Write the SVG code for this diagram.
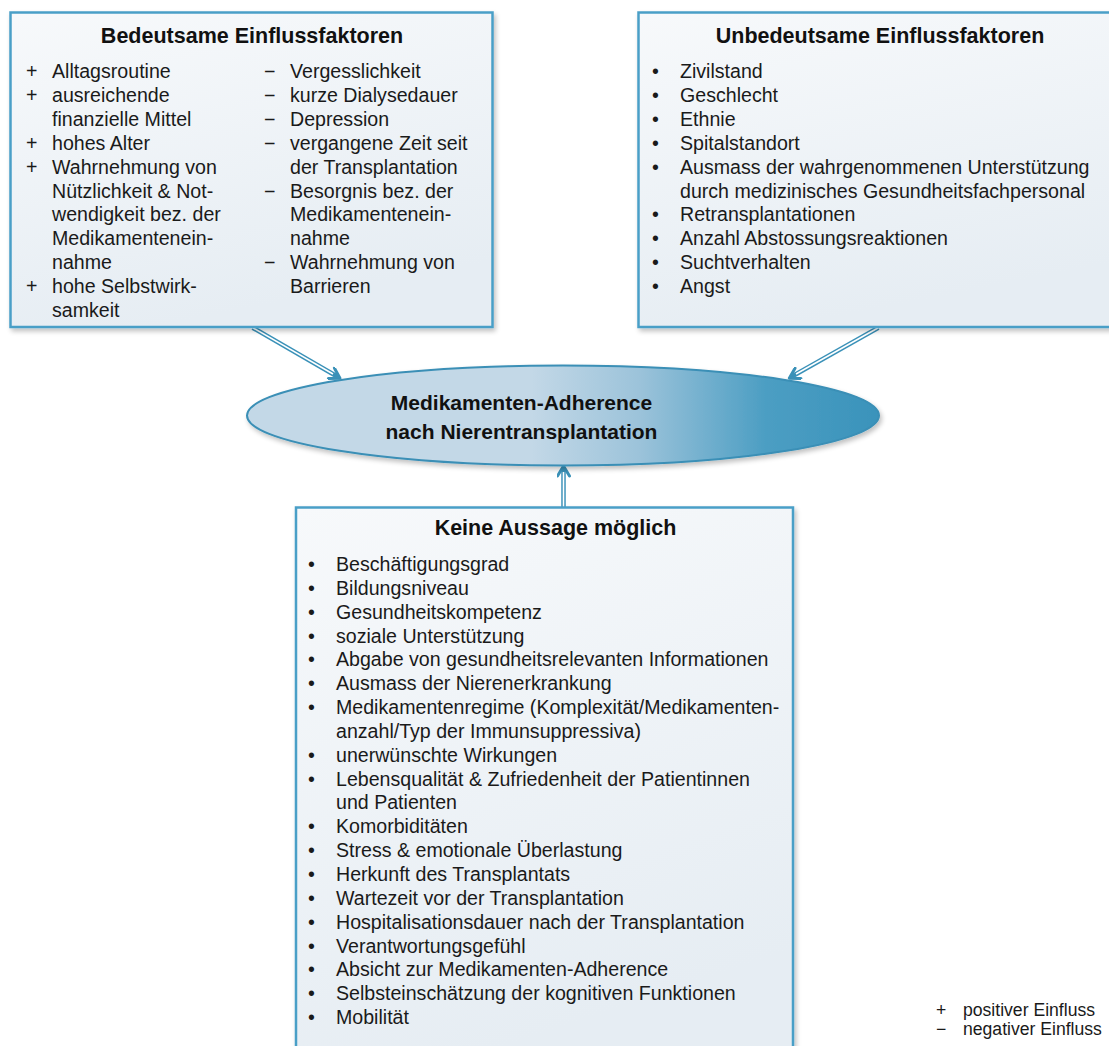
<svg xmlns="http://www.w3.org/2000/svg" width="1109" height="1046" viewBox="0 0 1109 1046">
<defs>
  <linearGradient id="boxFill" x1="0" y1="0" x2="0.3" y2="1">
    <stop offset="0" stop-color="#f7f9fb"/>
    <stop offset="1" stop-color="#e6edf3"/>
  </linearGradient>
  <linearGradient id="ellFill" x1="0" y1="0" x2="1" y2="0">
    <stop offset="0" stop-color="#c3d8e7"/>
    <stop offset="0.45" stop-color="#c3d8e7"/>
    <stop offset="0.62" stop-color="#9cc3da"/>
    <stop offset="0.82" stop-color="#4c9ec3"/>
    <stop offset="1" stop-color="#3a93bb"/>
  </linearGradient>
  <filter id="shadow" x="-5%" y="-5%" width="115%" height="115%">
    <feGaussianBlur in="SourceAlpha" stdDeviation="2.5"/>
    <feOffset dx="2" dy="3" result="b"/>
    <feComponentTransfer><feFuncA type="linear" slope="0.25"/></feComponentTransfer>
    <feMerge><feMergeNode/><feMergeNode in="SourceGraphic"/></feMerge>
  </filter>
  <marker id="head" viewBox="0 0 14 14" refX="12" refY="7" markerWidth="14" markerHeight="14" markerUnits="userSpaceOnUse" orient="auto">
    <path d="M2,1 L12,7 L2,13" fill="none" stroke="#3a91b8" stroke-width="3" stroke-linecap="round" stroke-linejoin="round"/>
  </marker>
</defs>
<style>
  .box { fill: url(#boxFill); stroke: #4a9fc7; stroke-width: 2.5; filter: url(#shadow); }
  .t { font-family: "Liberation Sans", Arial, sans-serif; font-size: 19.6px; fill: #1a1a1a; }
  .h { font-family: "Liberation Sans", Arial, sans-serif; font-size: 21.5px; font-weight: bold; fill: #111; text-anchor: middle; }
  .e { font-family: "Liberation Sans", Arial, sans-serif; font-size: 21px; font-weight: bold; fill: #111; text-anchor: middle; }
  .lg { font-family: "Liberation Sans", Arial, sans-serif; font-size: 17.6px; fill: #1a1a1a; }
  .outer { fill: none; stroke: #3a91b8; stroke-width: 4.5; }
  .inner { fill: none; stroke: #ffffff; stroke-width: 1.6; }
</style>

<g id="connectors">
  <path class="outer" d="M252.7,327.7 L338,377"/>
  <path class="inner" d="M252.7,327.7 L333,374"/>
  <path d="M252.7,327.7 L340,378.3" fill="none" stroke="none" marker-end="url(#head)"/>
  <path class="outer" d="M878.3,327.7 L791,377"/>
  <path class="inner" d="M878.3,327.7 L796,374"/>
  <path d="M878.3,327.7 L789.3,378.3" fill="none" stroke="none" marker-end="url(#head)"/>
  <path class="outer" d="M563.5,507 L563.5,468"/>
  <path class="inner" d="M563.5,507 L563.5,472"/>
  <path d="M563.5,507 L563.5,466" fill="none" stroke="none" marker-end="url(#head)"/>
</g>

<g id="node-bedeutsam">
  <rect class="box" x="10.5" y="12.5" width="482" height="314.5"/>
  <text class="h" x="252" y="43">Bedeutsame Einflussfaktoren</text>
  <g class="t">
    <text x="26" y="78.3">+</text><text x="52" y="78.3">Alltagsroutine</text>
    <text x="26" y="102.2">+</text><text x="52" y="102.2">ausreichende</text>
    <text x="52" y="126">finanzielle Mittel</text>
    <text x="26" y="149.8">+</text><text x="52" y="149.8">hohes Alter</text>
    <text x="26" y="173.7">+</text><text x="52" y="173.7">Wahrnehmung von</text>
    <text x="52" y="197.5">Nützlichkeit &amp; Not-</text>
    <text x="52" y="221.3">wendigkeit bez. der</text>
    <text x="52" y="245.2">Medikamentenein-</text>
    <text x="52" y="269">nahme</text>
    <text x="26" y="292.8">+</text><text x="52" y="292.8">hohe Selbstwirk-</text>
    <text x="52" y="316.7">samkeit</text>

    <text x="264" y="78.3">−</text><text x="290" y="78.3">Vergesslichkeit</text>
    <text x="264" y="102.2">−</text><text x="290" y="102.2">kurze Dialysedauer</text>
    <text x="264" y="126">−</text><text x="290" y="126">Depression</text>
    <text x="264" y="149.8">−</text><text x="290" y="149.8">vergangene Zeit seit</text>
    <text x="290" y="173.7">der Transplantation</text>
    <text x="264" y="197.5">−</text><text x="290" y="197.5">Besorgnis bez. der</text>
    <text x="290" y="221.3">Medikamentenein-</text>
    <text x="290" y="245.2">nahme</text>
    <text x="264" y="269">−</text><text x="290" y="269">Wahrnehmung von</text>
    <text x="290" y="292.8">Barrieren</text>
  </g>
</g>

<g id="node-unbedeutsam">
  <rect class="box" x="638.5" y="12.5" width="484" height="314.5"/>
  <text class="h" x="880" y="43">Unbedeutsame Einflussfaktoren</text>
  <g class="t">
    <text x="652" y="78.3">•</text><text x="680" y="78.3">Zivilstand</text>
    <text x="652" y="102.2">•</text><text x="680" y="102.2">Geschlecht</text>
    <text x="652" y="126">•</text><text x="680" y="126">Ethnie</text>
    <text x="652" y="149.8">•</text><text x="680" y="149.8">Spitalstandort</text>
    <text x="652" y="173.7">•</text><text x="680" y="173.7">Ausmass der wahrgenommenen Unterstützung</text>
    <text x="680" y="197.5">durch medizinisches Gesundheitsfachpersonal</text>
    <text x="652" y="221.3">•</text><text x="680" y="221.3">Retransplantationen</text>
    <text x="652" y="245.2">•</text><text x="680" y="245.2">Anzahl Abstossungsreaktionen</text>
    <text x="652" y="269">•</text><text x="680" y="269">Suchtverhalten</text>
    <text x="652" y="292.8">•</text><text x="680" y="292.8">Angst</text>
  </g>
</g>

<g id="node-adherence">
  <ellipse cx="563" cy="415.5" rx="316" ry="50" fill="url(#ellFill)" stroke="#3a8fb6" stroke-width="2" filter="url(#shadow)"/>
  <text class="e" x="521.5" y="410">Medikamenten-Adherence</text>
  <text class="e" x="521.5" y="438.5">nach Nierentransplantation</text>
</g>

<g id="node-keine-aussage">
  <rect class="box" x="296" y="507.5" width="497" height="560"/>
  <text class="h" x="555.5" y="535">Keine Aussage möglich</text>
  <g class="t">
    <text x="308" y="571">•</text><text x="336" y="571">Beschäftigungsgrad</text>
    <text x="308" y="594.8">•</text><text x="336" y="594.8">Bildungsniveau</text>
    <text x="308" y="618.7">•</text><text x="336" y="618.7">Gesundheitskompetenz</text>
    <text x="308" y="642.5">•</text><text x="336" y="642.5">soziale Unterstützung</text>
    <text x="308" y="666.4">•</text><text x="336" y="666.4">Abgabe von gesundheitsrelevanten Informationen</text>
    <text x="308" y="690.2">•</text><text x="336" y="690.2">Ausmass der Nierenerkrankung</text>
    <text x="308" y="714">•</text><text x="336" y="714">Medikamentenregime (Komplexität/Medikamenten-</text>
    <text x="336" y="737.9">anzahl/Typ der Immunsuppressiva)</text>
    <text x="308" y="761.7">•</text><text x="336" y="761.7">unerwünschte Wirkungen</text>
    <text x="308" y="785.6">•</text><text x="336" y="785.6">Lebensqualität &amp; Zufriedenheit der Patientinnen</text>
    <text x="336" y="809.4">und Patienten</text>
    <text x="308" y="833.3">•</text><text x="336" y="833.3">Komorbiditäten</text>
    <text x="308" y="857.1">•</text><text x="336" y="857.1">Stress &amp; emotionale Überlastung</text>
    <text x="308" y="880.9">•</text><text x="336" y="880.9">Herkunft des Transplantats</text>
    <text x="308" y="904.8">•</text><text x="336" y="904.8">Wartezeit vor der Transplantation</text>
    <text x="308" y="928.6">•</text><text x="336" y="928.6">Hospitalisationsdauer nach der Transplantation</text>
    <text x="308" y="952.5">•</text><text x="336" y="952.5">Verantwortungsgefühl</text>
    <text x="308" y="976.3">•</text><text x="336" y="976.3">Absicht zur Medikamenten-Adherence</text>
    <text x="308" y="1000.2">•</text><text x="336" y="1000.2">Selbsteinschätzung der kognitiven Funktionen</text>
    <text x="308" y="1024">•</text><text x="336" y="1024">Mobilität</text>
  </g>
</g>

<g id="legend">
  <text class="lg" x="936" y="1016">+</text><text class="lg" x="963" y="1016">positiver Einfluss</text>
  <text class="lg" x="936" y="1035">−</text><text class="lg" x="963" y="1035">negativer Einfluss</text>
</g>
</svg>
